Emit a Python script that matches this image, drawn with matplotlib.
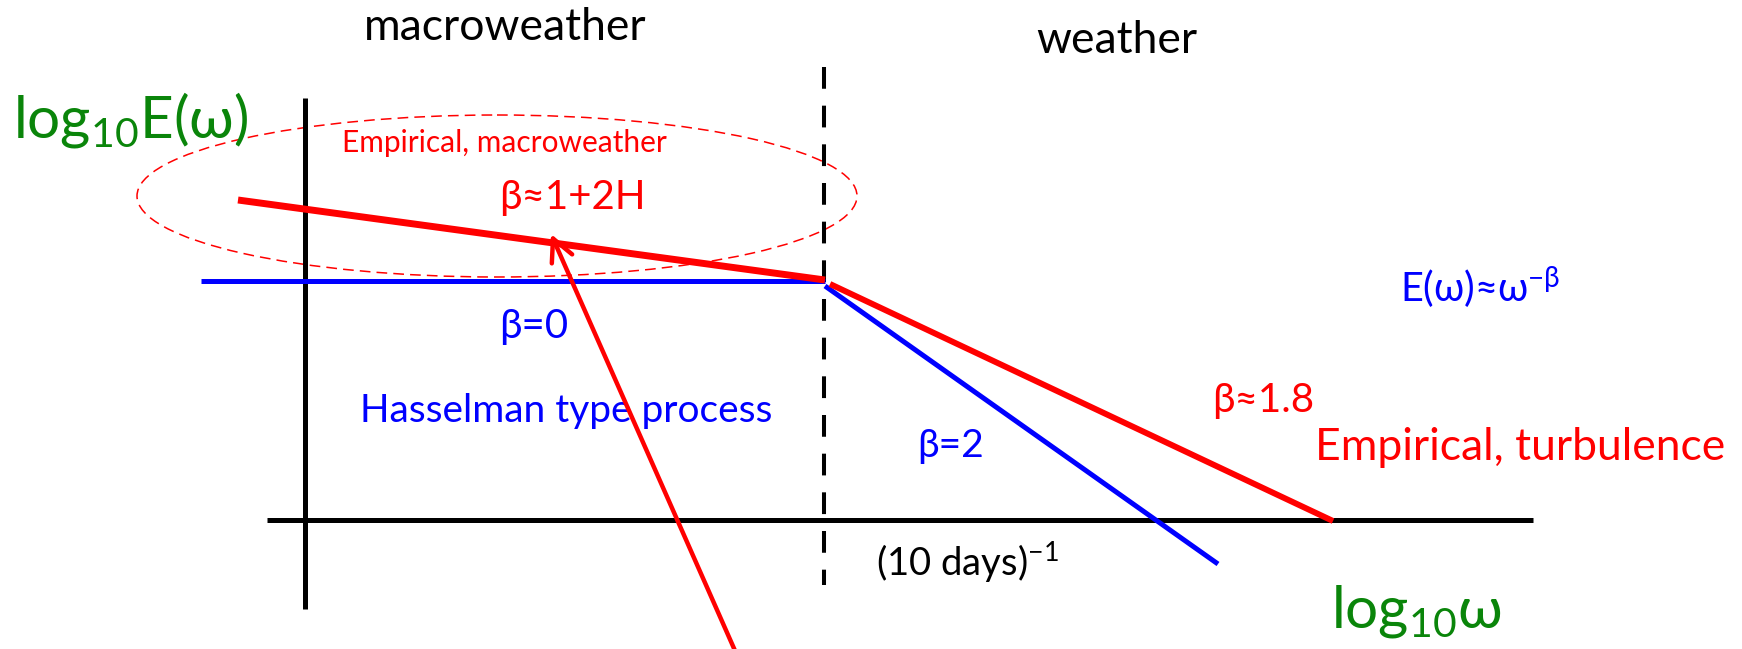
import matplotlib
matplotlib.use("Agg")
from matplotlib import pyplot as plt
from matplotlib.patches import Ellipse

plt.rcParams['font.family'] = ['Lato', 'DejaVu Sans']
plt.rcParams['mathtext.fontset'] = 'custom'
plt.rcParams['mathtext.rm'] = 'Lato'
plt.rcParams['mathtext.it'] = 'Lato:italic'

W, H = 1742, 649

RED = '#ff0000'
BLUE = '#0000ff'
GREEN = '#0a850a'

# schematic axes (drawing units: x = log10 omega to the right, y = log10 E downward)
axis_x = [267, 1533]
axis_y = [520, 520]
ordinate_x = [305, 305]
ordinate_y = [98, 609]

# (10 days)^-1 transition
break_x = [824, 824]
break_y = [67, 585]

# spectra: macroweather
flat_x = [201, 825]          # beta = 0
flat_y = [281, 281]
macro_x = [238, 825]         # beta ~ 1 + 2H
macro_y = [200, 280]

# spectra: weather
blue_x = [825, 1218]         # beta = 2
blue_y = [286, 564]
red_x = [830, 1333]          # beta ~ 1.8
red_y = [284, 521]

# arrow pointing to the empirical macroweather slope
arrow_tip = (551, 234)
arrow_tail = (740, 662)

# "empirical, macroweather" region
ell_center = (497, 196)
ell_size = (720, 162)

fig = plt.figure(figsize=(W / 100, H / 100), dpi=100)
ax = fig.add_axes([0, 0, 1, 1])
ax.set_xlim(0, W)
ax.set_ylim(H, 0)
ax.axis('off')

ax.add_patch(Ellipse(ell_center, *ell_size, fill=False, ec=RED, lw=1.1,
                     ls=(0, (7, 4)), zorder=1))

ax.plot(axis_x, axis_y, color='black', lw=3.6, solid_capstyle='butt', zorder=2)
ax.plot(ordinate_x, ordinate_y, color='black', lw=3.6, solid_capstyle='butt', zorder=2)
ax.plot(break_x, break_y, color='black', lw=2.9, ls=(0, (5.4, 4.2)), zorder=2)

ax.plot(flat_x, flat_y, color=BLUE, lw=3.6, solid_capstyle='butt', zorder=3)
ax.plot(blue_x, blue_y, color=BLUE, lw=3.6, solid_capstyle='butt', zorder=3)
ax.plot(macro_x, macro_y, color=RED, lw=5.0, solid_capstyle='butt', zorder=4)
ax.plot(red_x, red_y, color=RED, lw=4.3, solid_capstyle='butt', zorder=4)

ax.annotate('', xy=arrow_tip, xytext=arrow_tail, zorder=6,
            arrowprops=dict(arrowstyle='->,head_length=0.8,head_width=0.4',
                            color=RED, lw=3.2, shrinkA=0, shrinkB=0,
                            mutation_scale=20))

labels = [
    # text, x, baseline, size, colour
    ('macroweather', 364, 40, 32, 'black'),
    ('weather', 1036, 53, 32, 'black'),
    (r'log$_{\mathrm{10}}$E(ω)', 13, 137, 42, GREEN),
    ('Empirical, macroweather', 342, 152, 21.5, RED),
    ('β≈1+2H', 499, 209, 29, RED),
    ('β=0', 499, 338, 29, BLUE),
    ('Hasselman type process', 360, 422, 28, BLUE),
    (r'E(ω)≈ω$^{\mathrm{−β}}$', 1400, 302, 28.5, BLUE),
    ('β≈1.8', 1212, 412, 29, RED),
    ('Empirical, turbulence', 1315, 460, 32, RED),
    ('β=2', 917, 457, 28, BLUE),
    (r'(10 days)$^{\mathrm{-1}}$', 876, 576, 27.5, 'black'),
    (r'log$_{\mathrm{10}}$ω', 1331, 628, 42, GREEN),
]
for s, x, y, size, c in labels:
    ax.text(x, y, s, fontsize=size, color=c, ha='left', va='baseline', zorder=5)

fig.savefig('out.png', dpi=100)
